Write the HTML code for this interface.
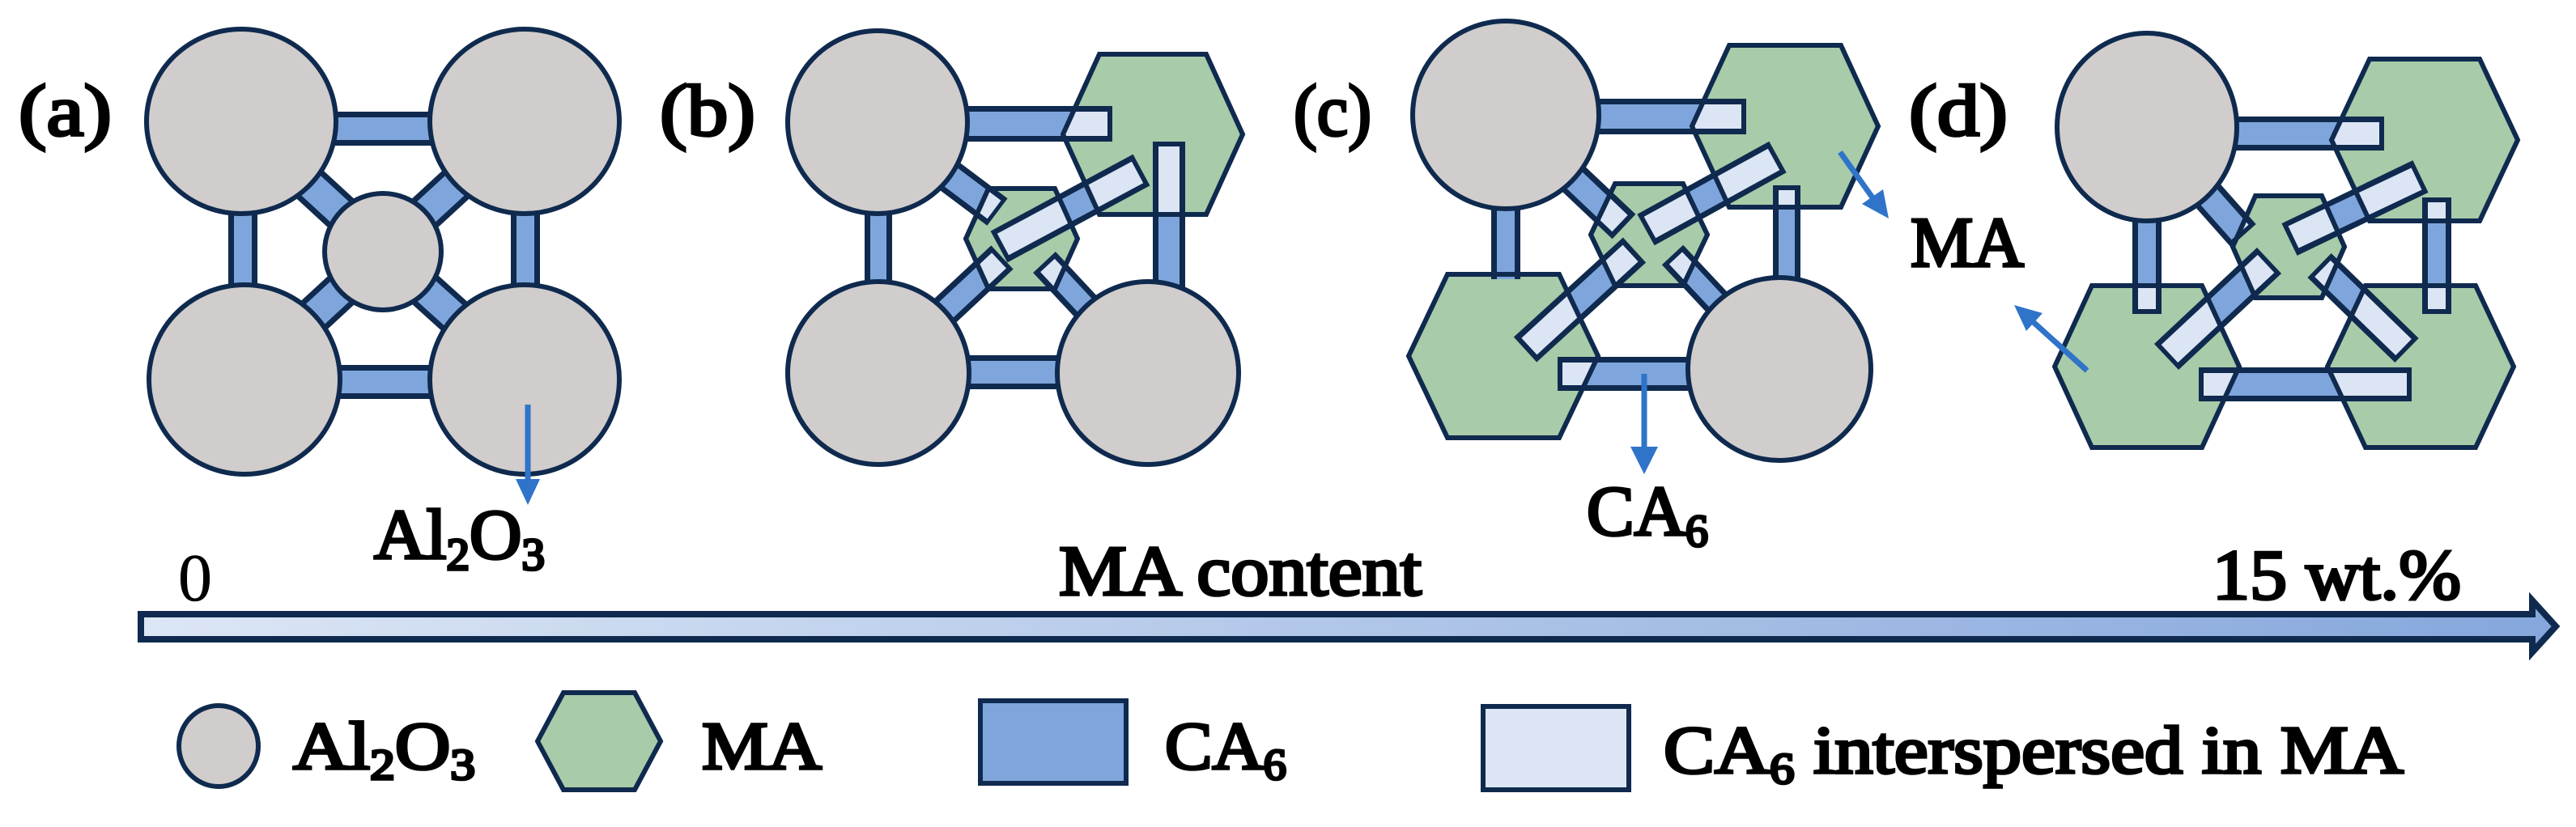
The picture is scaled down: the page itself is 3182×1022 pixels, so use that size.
<!DOCTYPE html>
<html><head><meta charset="utf-8"><style>
html,body{margin:0;padding:0;background:#fff;}
svg{display:block;}
text{font-family:"Liberation Serif","Times New Roman",serif;font-weight:normal;fill:#000;stroke:#000;stroke-width:3.6px;}
</style></head><body>
<svg width="3182" height="1022" viewBox="0 0 3182 1022" xmlns="http://www.w3.org/2000/svg">
<defs>
<linearGradient id="ax" x1="0" x2="1" y1="0" y2="0">
<stop offset="0" stop-color="#dce6f5"/><stop offset="1" stop-color="#86a7dc"/>
</linearGradient>
<clipPath id="hb">
<polygon points="1358,67 1490,67 1535,166 1490,265 1358,265 1313,166"/>
<polygon points="1221,233 1303,233 1331,295 1303,357 1221,357 1193,295"/>
</clipPath>
<clipPath id="hc">
<polygon points="2136,56 2274,56 2320,156 2274,256 2136,256 2090,156"/>
<polygon points="1788,339 1926,339 1974,440 1926,541 1788,541 1740,440"/>
<polygon points="1995,227 2079,227 2109,290 2079,353 1995,353 1965,290"/>
</clipPath>
<clipPath id="hd">
<polygon points="2927,73 3063,73 3110,173 3063,273 2927,273 2880,173"/>
<polygon points="2584,353 2720,353 2766,453 2720,553 2584,553 2538,453"/>
<polygon points="2922,353 3058,353 3105,453 3058,553 2922,553 2875,453"/>
<polygon points="2786,242 2868,242 2896,305 2868,368 2786,368 2758,305"/>
</clipPath>
</defs>

<text x="23" y="167" font-size="90" textLength="115" lengthAdjust="spacingAndGlyphs">(a)</text>
<text x="815" y="167" font-size="90" textLength="118" lengthAdjust="spacingAndGlyphs">(b)</text>
<text x="1598" y="167" font-size="90" textLength="96" lengthAdjust="spacingAndGlyphs">(c)</text>
<text x="2358" y="167" font-size="90" textLength="122" lengthAdjust="spacingAndGlyphs">(d)</text>

<!-- Panel a -->
<g stroke="#0f2a4e" stroke-width="7">
<line x1="400" y1="159" x2="550" y2="159" stroke-width="42"/>
<line x1="400" y1="472" x2="550" y2="472" stroke-width="42"/>
<line x1="300" y1="250" x2="300" y2="370" stroke-width="36"/>
<line x1="649" y1="250" x2="649" y2="370" stroke-width="36"/>
<line x1="298" y1="150" x2="473" y2="311" stroke-width="48"/>
<line x1="648" y1="150" x2="473" y2="311" stroke-width="48"/>
<line x1="302" y1="469" x2="473" y2="311" stroke-width="48"/>
<line x1="648" y1="469" x2="473" y2="311" stroke-width="48"/>
</g>
<g stroke="#7fa6dc">
<line x1="400" y1="159" x2="550" y2="159" stroke-width="28"/>
<line x1="400" y1="472" x2="550" y2="472" stroke-width="28"/>
<line x1="300" y1="250" x2="300" y2="370" stroke-width="22"/>
<line x1="649" y1="250" x2="649" y2="370" stroke-width="22"/>
<line x1="298" y1="150" x2="473" y2="311" stroke-width="34"/>
<line x1="648" y1="150" x2="473" y2="311" stroke-width="34"/>
<line x1="302" y1="469" x2="473" y2="311" stroke-width="34"/>
<line x1="648" y1="469" x2="473" y2="311" stroke-width="34"/>
</g>
<g fill="#d0cdcc" stroke="#0f2a4e" stroke-width="6">
<ellipse cx="298" cy="150" rx="117" ry="114"/>
<ellipse cx="648" cy="150" rx="117" ry="114"/>
<ellipse cx="302" cy="469" rx="118" ry="117"/>
<ellipse cx="648" cy="469" rx="117" ry="117"/>
<ellipse cx="473" cy="311" rx="72" ry="72"/>
</g>
<line x1="652" y1="500" x2="652" y2="595" stroke="#2f74c9" stroke-width="7"/>
<polygon points="637,592 667,592 652,624" fill="#2f74c9"/>
<text x="462" y="690" font-size="88" textLength="211" lengthAdjust="spacingAndGlyphs">Al<tspan font-size="56" dy="14">2</tspan><tspan dy="-14">O</tspan><tspan font-size="56" dy="14">3</tspan></text>

<!-- Panel b -->
<g fill="#a8cba9" stroke="none">
<polygon points="1358,67 1490,67 1535,166 1490,265 1358,265 1313,166"/>
<polygon points="1221,233 1303,233 1331,295 1303,357 1221,357 1193,295"/>
</g>
<g stroke="#0f2a4e">
<line x1="1180" y1="153" x2="1374" y2="153" stroke-width="44"/>
<line x1="1180" y1="460" x2="1320" y2="460" stroke-width="42"/>
<line x1="1085" y1="250" x2="1085" y2="360" stroke-width="34"/>
<line x1="1444" y1="175" x2="1444" y2="360" stroke-width="40"/>
<line x1="1084" y1="151" x2="1232" y2="262" stroke-width="42"/>
<line x1="1410" y1="210" x2="1234" y2="305" stroke-width="44"/>
<line x1="1085" y1="461" x2="1238" y2="318" stroke-width="40"/>
<line x1="1418" y1="461" x2="1290" y2="324" stroke-width="38"/>
</g>
<g stroke="#7fa6dc">
<line x1="1180" y1="153" x2="1368" y2="153" stroke-width="30"/>
<line x1="1180" y1="460" x2="1320" y2="460" stroke-width="28"/>
<line x1="1085" y1="250" x2="1085" y2="360" stroke-width="20"/>
<line x1="1444" y1="181" x2="1444" y2="360" stroke-width="26"/>
<line x1="1084" y1="151" x2="1228" y2="259" stroke-width="28"/>
<line x1="1405" y1="213" x2="1239" y2="302" stroke-width="30"/>
<line x1="1085" y1="461" x2="1234" y2="322" stroke-width="26"/>
<line x1="1418" y1="461" x2="1294" y2="328" stroke-width="24"/>
</g>
<g stroke="#dce5f4" clip-path="url(#hb)">
<line x1="1180" y1="153" x2="1368" y2="153" stroke-width="30"/>
<line x1="1444" y1="181" x2="1444" y2="360" stroke-width="26"/>
<line x1="1084" y1="151" x2="1228" y2="259" stroke-width="28"/>
<line x1="1405" y1="213" x2="1239" y2="302" stroke-width="30"/>
<line x1="1085" y1="461" x2="1234" y2="322" stroke-width="26"/>
<line x1="1418" y1="461" x2="1294" y2="328" stroke-width="24"/>
</g>
<g fill="none" stroke="#0f2a4e" stroke-width="6">
<polygon points="1358,67 1490,67 1535,166 1490,265 1358,265 1313,166"/>
<polygon points="1221,233 1303,233 1331,295 1303,357 1221,357 1193,295"/>
</g>
<g fill="#d0cdcc" stroke="#0f2a4e" stroke-width="6">
<ellipse cx="1084" cy="151" rx="111" ry="113"/>
<ellipse cx="1085" cy="461" rx="112" ry="113"/>
<ellipse cx="1418" cy="461" rx="112" ry="113"/>
</g>

<!-- Panel c -->
<g fill="#a8cba9">
<polygon points="2136,56 2274,56 2320,156 2274,256 2136,256 2090,156"/>
<polygon points="1788,339 1926,339 1974,440 1926,541 1788,541 1740,440"/>
<polygon points="1995,227 2079,227 2109,290 2079,353 1995,353 1965,290"/>
</g>
<g stroke="#0f2a4e">
<line x1="1960" y1="144" x2="2157" y2="144" stroke-width="44"/>
<line x1="1924" y1="462" x2="2100" y2="462" stroke-width="42"/>
<line x1="1860" y1="250" x2="1860" y2="345" stroke-width="36"/>
<line x1="2207" y1="229" x2="2207" y2="350" stroke-width="34"/>
<line x1="1860" y1="142" x2="2006" y2="280" stroke-width="42"/>
<line x1="2196" y1="194" x2="2033" y2="284" stroke-width="44"/>
<line x1="1884" y1="432" x2="2019" y2="309" stroke-width="42"/>
<line x1="2198" y1="456" x2="2066" y2="315" stroke-width="36"/>
</g>
<g stroke="#7fa6dc">
<line x1="1960" y1="144" x2="2151" y2="144" stroke-width="30"/>
<line x1="1930" y1="462" x2="2100" y2="462" stroke-width="28"/>
<line x1="1860" y1="250" x2="1860" y2="345" stroke-width="22"/>
<line x1="2207" y1="235" x2="2207" y2="350" stroke-width="20"/>
<line x1="1860" y1="142" x2="2001" y2="276" stroke-width="28"/>
<line x1="2191" y1="197" x2="2038" y2="281" stroke-width="30"/>
<line x1="1889" y1="428" x2="2014" y2="313" stroke-width="28"/>
<line x1="2198" y1="456" x2="2070" y2="319" stroke-width="22"/>
</g>
<g stroke="#dce5f4" clip-path="url(#hc)">
<line x1="1960" y1="144" x2="2151" y2="144" stroke-width="30"/>
<line x1="1930" y1="462" x2="2100" y2="462" stroke-width="28"/>
<line x1="2207" y1="235" x2="2207" y2="350" stroke-width="20"/>
<line x1="1860" y1="142" x2="2001" y2="276" stroke-width="28"/>
<line x1="2191" y1="197" x2="2038" y2="281" stroke-width="30"/>
<line x1="1889" y1="428" x2="2014" y2="313" stroke-width="28"/>
<line x1="2198" y1="456" x2="2070" y2="319" stroke-width="22"/>
</g>
<g fill="none" stroke="#0f2a4e" stroke-width="6">
<polygon points="2136,56 2274,56 2320,156 2274,256 2136,256 2090,156"/>
<polygon points="1788,339 1926,339 1974,440 1926,541 1788,541 1740,440"/>
<polygon points="1995,227 2079,227 2109,290 2079,353 1995,353 1965,290"/>
</g>
<g fill="#d0cdcc" stroke="#0f2a4e" stroke-width="6">
<ellipse cx="1860" cy="142" rx="115" ry="116"/>
<ellipse cx="2198" cy="456" rx="113" ry="113"/>
</g>
<line x1="2031" y1="462" x2="2031" y2="555" stroke="#2f74c9" stroke-width="7"/>
<polygon points="2014,552 2048,552 2031,586" fill="#2f74c9"/>
<line x1="2273" y1="188" x2="2315" y2="247" stroke="#2f74c9" stroke-width="7"/>
<polygon points="2300,252 2326,234 2333,270" fill="#2f74c9"/>
<text x="1960" y="661" font-size="88" textLength="150" lengthAdjust="spacingAndGlyphs">CA<tspan font-size="56" dy="14">6</tspan></text>
<text x="2360" y="329" font-size="88" textLength="140" lengthAdjust="spacingAndGlyphs">MA</text>

<!-- Panel d -->
<g fill="#a8cba9">
<polygon points="2927,73 3063,73 3110,173 3063,273 2927,273 2880,173"/>
<polygon points="2584,353 2720,353 2766,453 2720,553 2584,553 2538,453"/>
<polygon points="2922,353 3058,353 3105,453 3058,553 2922,553 2875,453"/>
<polygon points="2786,242 2868,242 2896,305 2868,368 2786,368 2758,305"/>
</g>
<g stroke="#0f2a4e">
<line x1="2750" y1="165" x2="2945" y2="165" stroke-width="42"/>
<line x1="2716" y1="475" x2="2979" y2="475" stroke-width="42"/>
<line x1="2652" y1="260" x2="2652" y2="388" stroke-width="36"/>
<line x1="3010" y1="244" x2="3010" y2="388" stroke-width="36"/>
<line x1="2652" y1="157" x2="2771" y2="291" stroke-width="42"/>
<line x1="2990" y1="218" x2="2828" y2="296" stroke-width="44"/>
<line x1="2676" y1="441" x2="2803" y2="322" stroke-width="44"/>
<line x1="2973" y1="433" x2="2865" y2="328" stroke-width="42"/>
</g>
<g stroke="#7fa6dc">
<line x1="2750" y1="165" x2="2939" y2="165" stroke-width="28"/>
<line x1="2722" y1="475" x2="2973" y2="475" stroke-width="28"/>
<line x1="2652" y1="260" x2="2652" y2="382" stroke-width="22"/>
<line x1="3010" y1="250" x2="3010" y2="382" stroke-width="22"/>
<line x1="2652" y1="157" x2="2767" y2="287" stroke-width="28"/>
<line x1="2985" y1="221" x2="2833" y2="293" stroke-width="30"/>
<line x1="2680" y1="437" x2="2799" y2="326" stroke-width="30"/>
<line x1="2969" y1="429" x2="2869" y2="332" stroke-width="28"/>
</g>
<g stroke="#dce5f4" clip-path="url(#hd)">
<line x1="2750" y1="165" x2="2939" y2="165" stroke-width="28"/>
<line x1="2722" y1="475" x2="2973" y2="475" stroke-width="28"/>
<line x1="2652" y1="260" x2="2652" y2="382" stroke-width="22"/>
<line x1="3010" y1="250" x2="3010" y2="382" stroke-width="22"/>
<line x1="2652" y1="157" x2="2767" y2="287" stroke-width="28"/>
<line x1="2985" y1="221" x2="2833" y2="293" stroke-width="30"/>
<line x1="2680" y1="437" x2="2799" y2="326" stroke-width="30"/>
<line x1="2969" y1="429" x2="2869" y2="332" stroke-width="28"/>
</g>
<g fill="none" stroke="#0f2a4e" stroke-width="6">
<polygon points="2927,73 3063,73 3110,173 3063,273 2927,273 2880,173"/>
<polygon points="2584,353 2720,353 2766,453 2720,553 2584,553 2538,453"/>
<polygon points="2922,353 3058,353 3105,453 3058,553 2922,553 2875,453"/>
<polygon points="2786,242 2868,242 2896,305 2868,368 2786,368 2758,305"/>
</g>
<ellipse cx="2652" cy="157" rx="111" ry="116" fill="#d0cdcc" stroke="#0f2a4e" stroke-width="6"/>
<line x1="2578" y1="458" x2="2505" y2="392" stroke="#2f74c9" stroke-width="7"/>
<polygon points="2488,377 2523,387 2503,409" fill="#2f74c9"/>

<!-- Axis arrow -->
<polygon points="174,759 3128,759 3128,742 3157,774 3128,806 3128,790 174,790" fill="url(#ax)" stroke="#0f2a4e" stroke-width="8" stroke-linejoin="miter"/>
<text x="220" y="742" font-size="84" style="stroke-width:0.5px">0</text>
<text x="1308" y="735" font-size="88" textLength="448" lengthAdjust="spacingAndGlyphs">MA content</text>
<text x="2733" y="740" font-size="88" textLength="307" lengthAdjust="spacingAndGlyphs">15 wt.%</text>

<!-- Legend -->
<ellipse cx="270" cy="922" rx="49" ry="50" fill="#d0cdcc" stroke="#0f2a4e" stroke-width="6"/>
<text x="362" y="950" font-size="84" textLength="225" lengthAdjust="spacingAndGlyphs">Al<tspan font-size="54" dy="13">2</tspan><tspan dy="-13">O</tspan><tspan font-size="54" dy="13">3</tspan></text>
<polygon points="696,856 784,856 816,916 784,976 696,976 664,916" fill="#a8cba9" stroke="#0f2a4e" stroke-width="6"/>
<text x="867" y="950" font-size="84" textLength="148" lengthAdjust="spacingAndGlyphs">MA</text>
<rect x="1211" y="866" width="180" height="102" fill="#7fa6dc" stroke="#0f2a4e" stroke-width="6"/>
<text x="1439" y="950" font-size="84" textLength="150" lengthAdjust="spacingAndGlyphs">CA<tspan font-size="54" dy="13">6</tspan></text>
<rect x="1832" y="873" width="180" height="103" fill="#dce5f4" stroke="#0f2a4e" stroke-width="6"/>
<text x="2055" y="955" font-size="84" textLength="914" lengthAdjust="spacingAndGlyphs">CA<tspan font-size="54" dy="13">6</tspan><tspan dy="-13"> interspersed in MA</tspan></text>
</svg>
</body></html>
